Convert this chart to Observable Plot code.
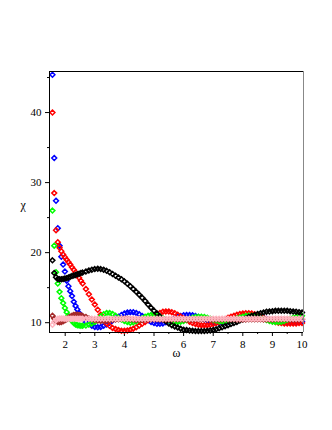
<!DOCTYPE html>
<html><head><meta charset="utf-8">
<script src="https://cdn.jsdelivr.net/npm/d3@7"></script>
<script src="https://cdn.jsdelivr.net/npm/@observablehq/plot@0.6"></script>
<style>body{margin:0;background:#fff} svg, svg text{font-family:"Liberation Serif", "Times New Roman", serif !important;}</style>
</head><body><div id="chart"></div>
<script>
const omegaFine = [1.57,1.63,1.69,1.75,1.81,1.87,1.93,1.99,2.05,2.11,2.17,2.23,2.29,2.35,2.41,2.47,2.53,2.59];
const omegaCoarse = d3.range(27, 101).map(i => i / 10);
const omega = omegaFine.concat(omegaCoarse);

const blueValues = [
45.4,33.5,27.4,23.5,21.0,19.4,18.3,17.3,16.0,15.2,14.5,13.8,13.0,12.4,11.9,11.4,11.0,10.6,
10.1,9.8,9.55,9.4,9.35,9.4,9.55,9.75,10.0,10.3,
10.6,10.85,11.1,11.3,11.45,11.5,11.5,11.4,11.2,10.95,
10.65,10.35,10.1,9.95,9.85,9.85,9.9,10.05,10.25,10.45,
10.65,10.85,10.95,11.05,11.1,11.1,11.05,10.95,10.8,10.65,
10.45,10.3,10.15,10.05,10.0,10.0,10.0,10.05,10.15,10.3,
10.45,10.6,10.7,10.8,10.9,10.95,10.95,10.95,10.9,10.8,
10.7,10.55,10.45,10.35,10.25,10.2,10.15,10.1,10.1,10.1,
10.1,10.1,10.12,10.15];
const redValues = [
40.0,28.5,23.2,21.5,20.7,20.2,19.75,19.35,19.0,18.65,18.3,17.9,17.55,17.2,16.8,16.4,16.0,15.6,
14.8,14.05,13.3,12.6,11.85,11.15,10.35,9.9,9.55,9.25,
9.1,8.95,8.85,8.85,8.9,9.0,9.15,9.35,9.6,9.85,
10.1,10.4,10.7,10.95,11.2,11.4,11.55,11.6,11.6,11.5,
11.35,11.15,10.9,10.65,10.4,10.15,9.95,9.8,9.7,9.65,
9.65,9.65,9.7,9.8,9.95,10.1,10.3,10.5,10.7,10.85,
11.0,11.15,11.25,11.3,11.35,11.35,11.3,11.2,11.05,10.9,
10.7,10.5,10.35,10.2,10.1,10.0,9.95,9.9,9.9,9.9,
9.9,9.9,9.95,9.95];
const greenValues = [
26.0,21.0,17.2,15.6,14.4,13.5,12.8,12.1,11.5,11.0,10.6,10.25,9.95,9.75,9.65,9.6,9.55,9.55,
9.6,9.75,9.9,10.1,10.5,10.9,11.2,11.4,11.4,11.25,
11.0,10.7,10.45,10.25,10.1,10.0,10.05,10.2,10.4,10.65,
10.85,11.0,11.1,11.1,11.0,10.85,10.65,10.45,10.3,10.15,
10.1,10.1,10.15,10.25,10.4,10.55,10.7,10.8,10.85,10.85,
10.8,10.7,10.55,10.4,10.3,10.2,10.15,10.15,10.2,10.3,
10.45,10.6,10.75,10.85,10.95,11.0,11.0,10.95,10.85,10.7,
10.55,10.4,10.25,10.15,10.1,10.1,10.15,10.25,10.4,10.55,
10.7,10.85,10.95,11.0];
const blackValues = [
18.9,17.1,16.5,16.25,16.2,16.2,16.25,16.3,16.35,16.45,16.55,16.65,16.75,16.8,16.9,17.0,17.1,17.15,
17.3,17.45,17.55,17.65,17.7,17.65,17.55,17.4,17.2,16.95,
16.7,16.45,16.2,15.9,15.55,15.2,14.8,14.4,14.0,13.55,
13.1,12.6,12.15,11.7,11.3,10.9,10.5,10.2,9.9,9.65,
9.45,9.3,9.15,9.0,8.95,8.9,8.85,8.8,8.8,8.8,
8.8,8.85,8.9,8.95,9.05,9.2,9.35,9.5,9.65,9.8,
9.95,10.1,10.3,10.45,10.65,10.8,10.95,11.1,11.25,11.35,
11.45,11.55,11.6,11.65,11.7,11.7,11.7,11.7,11.7,11.65,
11.6,11.55,11.5,11.45];
const brownValues = [
11.0,10.6,10.3,10.1,10.05,10.1,10.2,10.35,10.5,10.7,10.85,11.0,11.1,11.15,11.15,11.1,11.05,10.95,
10.8,10.6,10.5,10.4,10.3,10.25,10.25,10.3,10.35,10.4,
10.45,10.5,10.55,10.55,10.55,10.5,10.45,10.4,10.4,10.4,
10.45,10.5,10.5,10.5,10.5,10.45,10.45,10.45,10.45,10.5,
10.5,10.5,10.5,10.45,10.45,10.45,10.45,10.5,10.5,10.5,
10.5,10.5,10.45,10.45,10.45,10.45,10.5,10.5,10.5,10.5,
10.5,10.45,10.45,10.45,10.45,10.5,10.5,10.5,10.5,10.5,
10.45,10.45,10.45,10.45,10.5,10.5,10.5,10.5,10.5,10.45,
10.45,10.45,10.45,10.5];
const pinkValues = [
9.7,10.1,10.4,10.55,10.6,10.6,10.6,10.55,10.55,10.55,10.55,10.55,10.55,10.55,10.55,10.55,10.55,10.55,
10.55,10.55,10.55,10.55,10.55,10.55,10.55,10.55,10.55,10.55,
10.55,10.55,10.55,10.55,10.55,10.55,10.55,10.55,10.55,10.55,
10.55,10.55,10.55,10.55,10.55,10.55,10.55,10.55,10.55,10.55,
10.55,10.55,10.55,10.55,10.55,10.55,10.55,10.55,10.55,10.55,
10.55,10.55,10.55,10.55,10.55,10.55,10.55,10.55,10.55,10.55,
10.55,10.55,10.55,10.55,10.55,10.55,10.55,10.55,10.55,10.55,
10.55,10.55,10.55,10.55,10.55,10.55,10.55,10.55,10.55,10.55,
10.55,10.55,10.55,10.55];

const seriesNames = ["curve 1","curve 2","curve 3","curve 4","curve 5","curve 6"];
const seriesColors = ["#0000ff","#ff0000","#00ff00","#000000","#a52a2a","#ffb6c1"];
const seriesValues = [blueValues, redValues, greenValues, blackValues, brownValues, pinkValues];

const xTicks = [2,3,4,5,6,7,8,9,10];
const xMinor = [2.5,3.5,4.5,5.5,6.5,7.5,8.5,9.5];
const yTicks = [10,20,30,40];
const yMinor = [15,25,35,45];

const rows = [];
seriesValues.forEach((vals, s) => vals.forEach((v, i) => rows.push({omega: omega[i], chi: v, series: seriesNames[s]})));

const xDomain = [1.47, 10.05];
const yDomain = [8.6, 45.86];
const serif = "'Liberation Serif', 'Times New Roman', serif";

const chart = Plot.plot({
  width: 332, height: 430,
  marginLeft: 49, marginRight: 29, marginTop: 71, marginBottom: 98,
  style: {fontFamily: serif, fontSize: "11px", color: "#000", background: "#fff"},
  x: {domain: xDomain, label: null},
  y: {domain: yDomain, label: null},
  color: {type: "ordinal", domain: seriesNames, range: seriesColors},
  marks: [
    Plot.axisX({ticks: xTicks, tickSize: 4, tickPadding: 4, label: null, fontSize: 11, fontFamily: serif}),
    Plot.axisX({ticks: xMinor, tickSize: 2, tickFormat: () => "", label: null}),
    Plot.axisY({ticks: yTicks, tickSize: 4, tickPadding: 4, label: null, fontSize: 11, fontFamily: serif}),
    Plot.axisY({ticks: yMinor, tickSize: 2, tickFormat: () => "", label: null}),
    Plot.dot(rows, {x: "omega", y: "chi", stroke: "series", symbol: "diamond2", r: 2.2, strokeWidth: 1.5, fill: "none"}),
    Plot.ruleX([xDomain[0]], {stroke: "#000"}),
    Plot.ruleY([yDomain[0]], {stroke: "#000"}),
    Plot.ruleY([yDomain[1]], {stroke: "#000"}),
    Plot.ruleX([xDomain[1]], {stroke: "#888"}),
    Plot.text(["χ"], {frameAnchor: "left", dx: -29, dy: 3, text: d => d, fontSize: 12, fontFamily: serif}),
    Plot.text(["ω"], {frameAnchor: "bottom", dy: 24, text: d => d, fontSize: 12, fontFamily: serif})
  ]
});
document.getElementById("chart").appendChild(chart);
</script>
</body></html>
